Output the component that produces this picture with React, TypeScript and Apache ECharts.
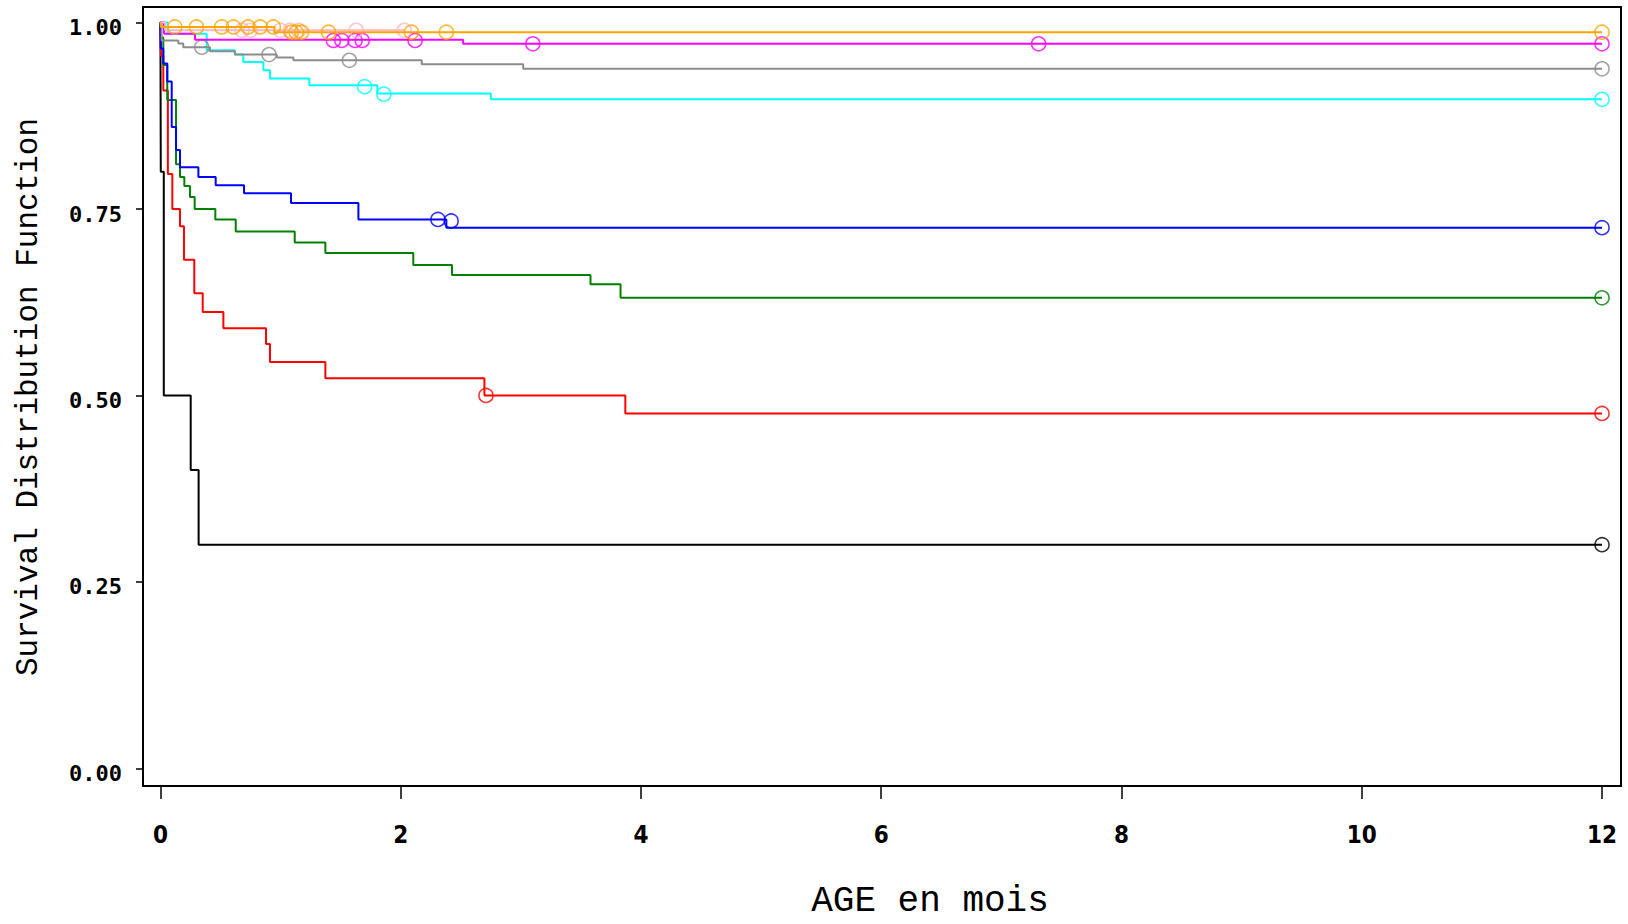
import React, { useEffect, useRef } from "react";
import * as echarts from "echarts";

// ---- Data ----
const xTicks = [0, 2, 4, 6, 8, 10, 12];
const yTicks = [0, 0.25, 0.5, 0.75, 1];

const blackT = [0, 0.003, 0.028, 0.252, 0.318, 12];
const blackS = [1, 0.8, 0.5, 0.4, 0.3, 0.3];
const blackC = [[12, 0.3]];

const redT = [0, 0.005, 0.024, 0.062, 0.099, 0.163, 0.196, 0.282, 0.352, 0.524, 0.879, 0.912, 1.373, 2.697, 3.87, 12];
const redS = [1, 0.955, 0.909, 0.797, 0.75, 0.727, 0.682, 0.637, 0.612, 0.59, 0.569, 0.545, 0.523, 0.5, 0.476, 0.476];
const redC = [[2.71, 0.5], [12, 0.476]];

const greenT = [0, 0.005, 0.024, 0.057, 0.13, 0.163, 0.199, 0.246, 0.285, 0.457, 0.627, 1.118, 1.373, 2.105, 2.427, 3.58, 3.83, 12];
const greenS = [1, 0.98, 0.943, 0.896, 0.81, 0.793, 0.781, 0.766, 0.75, 0.736, 0.72, 0.705, 0.691, 0.675, 0.6615, 0.649, 0.631, 0.631];
const greenC = [[12, 0.631]];

const blueT = [0, 0.003, 0.024, 0.057, 0.094, 0.13, 0.163, 0.316, 0.46, 0.696, 1.087, 1.648, 2.38, 12];
const blueS = [1, 0.965, 0.945, 0.921, 0.86, 0.829, 0.806, 0.793, 0.782, 0.771, 0.758, 0.736, 0.725, 0.725];
const blueC = [[2.31, 0.736], [2.42, 0.734], [12, 0.725]];

const cyanT = [0, 0.06, 0.385, 0.62, 0.69, 0.857, 0.912, 1.24, 1.806, 2.75, 12];
const cyanS = [1, 0.985, 0.9627, 0.957, 0.947, 0.936, 0.925, 0.916, 0.905, 0.897, 0.897];
const cyanC = [[1.7, 0.914], [1.86, 0.904], [12, 0.897]];

const grayT = [0, 0.01, 0.149, 0.19, 0.413, 0.62, 0.968, 1.107, 2.175, 3.02, 12];
const grayS = [1, 0.976, 0.972, 0.967, 0.9614, 0.957, 0.953, 0.9494, 0.944, 0.938, 0.938];
const grayC = [[0.344, 0.967], [0.904, 0.957], [1.573, 0.9494], [12, 0.938]];

const magentaT = [0, 0.03, 0.288, 2.52, 12];
const magentaS = [1, 0.985, 0.977, 0.9715, 0.9715];
const magentaC = [[1.44, 0.976], [1.51, 0.976], [1.62, 0.976], [1.68, 0.976], [2.12, 0.976], [3.1, 0.9715], [7.31, 0.9715], [12, 0.9715]];

const pinkT = [0, 0.04, 2.03];
const pinkS = [1, 0.9895, 0.9895];
const pinkC = [[0.68, 0.9895], [0.75, 0.9895], [1.0, 0.9895], [1.08, 0.9895], [1.15, 0.9895], [1.63, 0.9895], [2.03, 0.9895]];

const orangeT = [0, 0.005, 0.95, 12];
const orangeS = [1, 0.994, 0.987, 0.987];
const orangeC = [[0.12, 0.994], [0.3, 0.994], [0.51, 0.994], [0.607, 0.994], [0.73, 0.994], [0.83, 0.994], [0.94, 0.994], [1.09, 0.987], [1.13, 0.987], [1.176, 0.987], [1.4, 0.987], [2.09, 0.987], [2.38, 0.987], [12, 0.987]];

const groups = [
  { name: "black", color: "#000000", t: blackT, s: blackS, c: blackC },
  { name: "red", color: "#ff0000", t: redT, s: redS, c: redC },
  { name: "green", color: "#008000", t: greenT, s: greenS, c: greenC },
  { name: "blue", color: "#0000ff", t: blueT, s: blueS, c: blueC },
  { name: "cyan", color: "#00ffff", t: cyanT, s: cyanS, c: cyanC },
  { name: "gray", color: "#8c8c8c", t: grayT, s: grayS, c: grayC },
  { name: "magenta", color: "#ff00ff", t: magentaT, s: magentaS, c: magentaC },
  { name: "pink", color: "#ffb6c1", t: pinkT, s: pinkS, c: pinkC },
  { name: "orange", color: "#ffa500", t: orangeT, s: orangeS, c: orangeC },
];

export default function App() {
  const ref = useRef<HTMLDivElement>(null);
  useEffect(() => {
    if (!ref.current) return;
    const chart = echarts.init(ref.current, null, { renderer: "svg" });
    const series: any[] = [];
    groups.forEach((g, i) => {
      series.push({
        type: "line",
        name: g.name,
        step: "end",
        data: g.t.map((t, k) => [t, g.s[k]]),
        showSymbol: false,
        lineStyle: { color: g.color, width: 2 },
        itemStyle: { color: g.color },
        z: 2 + i,
        silent: true,
      });
      series.push({
        type: "scatter",
        name: g.name + " censored",
        data: g.c,
        symbol: "circle",
        symbolSize: 14,
        itemStyle: { color: "transparent", borderColor: g.color, borderWidth: 1.6 },
        z: 2 + i,
        silent: true,
      });
    });
    chart.setOption({
      animation: false,
      backgroundColor: "#ffffff",
      grid: {
        left: 143,
        right: 7,
        top: 7,
        bottom: 138,
        show: true,
        borderColor: "#000",
        borderWidth: 2,
      },
      xAxis: {
        type: "value",
        min: -0.145,
        max: 12.158,
        splitLine: { show: false },
        axisLine: { show: true, onZero: false, lineStyle: { color: "#000", width: 2 } },
        axisTick: { show: true, length: 13, customValues: xTicks, lineStyle: { color: "#000", width: 1.5 } },
        axisLabel: {
          customValues: xTicks,
          margin: 37,
          color: "#000",
          fontFamily: '"Liberation Sans Narrow", "DejaVu Sans Condensed", sans-serif',
          fontWeight: "bold",
          fontSize: 24,
        },
      },
      yAxis: {
        type: "value",
        min: -0.0235,
        max: 1.0208,
        splitLine: { show: false },
        axisLine: { show: true, onZero: false, lineStyle: { color: "#000", width: 2 } },
        axisTick: { show: true, length: 7, customValues: yTicks, lineStyle: { color: "#000", width: 1.5 } },
        axisLabel: {
          customValues: yTicks,
          margin: 21,
          color: "#000",
          fontFamily: '"DejaVu Sans Mono", monospace',
          fontWeight: "bold",
          fontSize: 22,
          verticalAlign: "top",
          lineHeight: 10,
          formatter: (v: number) => v.toFixed(2),
        },
      },
      graphic: [
        {
          type: "text",
          x: 28,
          y: 397,
          rotation: Math.PI / 2,
          style: {
            text: "Survival Distribution Function",
            fill: "#000",
            fontSize: 31,
            fontFamily: '"Liberation Mono", monospace',
            textAlign: "center",
            textVerticalAlign: "middle",
            align: "center",
            verticalAlign: "middle",
          },
        },
        {
          type: "text",
          x: 930,
          y: 901,
          style: {
            text: "AGE en mois",
            fill: "#000",
            fontSize: 36,
            fontFamily: '"Liberation Mono", monospace',
            textAlign: "center",
            textVerticalAlign: "middle",
            align: "center",
            verticalAlign: "middle",
          },
        },
      ],
      series,
    });
    return () => chart.dispose();
  }, []);
  return (
    <div
      ref={ref}
      style={{ position: "fixed", left: 0, top: 0, width: 1628, height: 924, background: "#fff" }}
    />
  );
}
